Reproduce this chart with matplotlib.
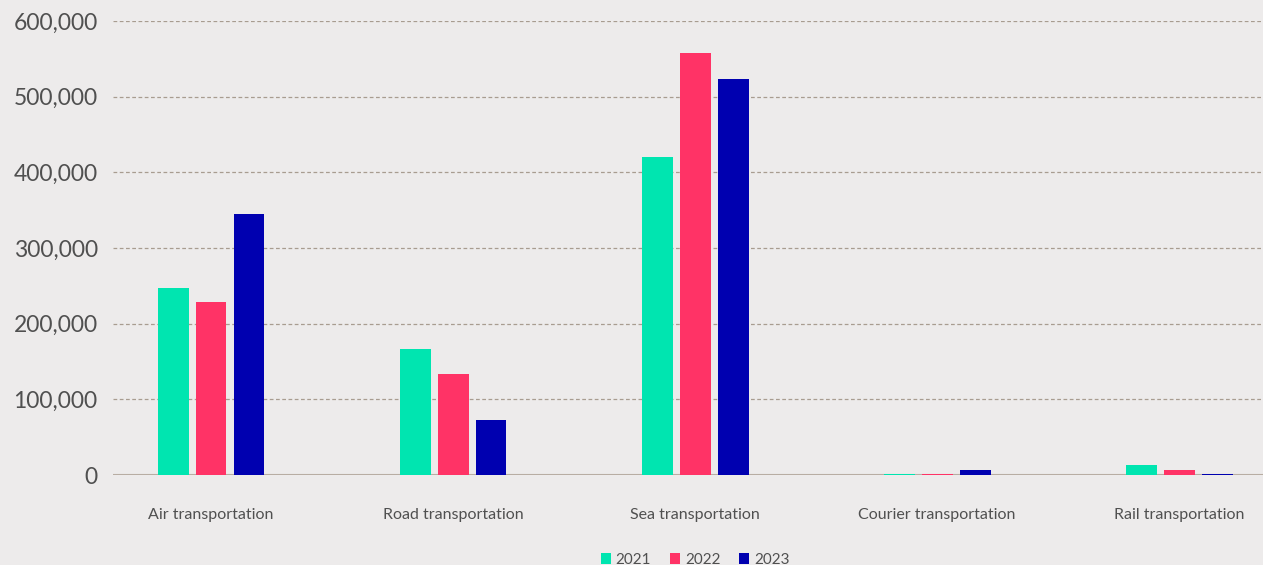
import numpy as np
import matplotlib.pyplot as plt
from matplotlib.ticker import FuncFormatter

plt.rcParams["font.family"] = ["Lato", "DejaVu Sans"]

categories = ["Air transportation", "Road transportation", "Sea transportation",
              "Courier transportation", "Rail transportation"]
years = ["2021", "2022", "2023"]
values_2021 = [247000, 166500, 420500, 1500, 13000]
values_2022 = [228500, 133500, 558000, 1500, 6500]
values_2023 = [345000, 72500, 523500, 6500, 1500]
colors = ["#00E5B0", "#FF3366", "#0000B0"]

bg = "#EDEBEB"
fig = plt.figure(figsize=(12.63, 5.65), dpi=100, facecolor=bg)
ax = fig.add_axes([113 / 1263, 1 - 475 / 565, 1150 / 1263, 454 / 565])
ax.set_facecolor(bg)

x = np.arange(len(categories))
w = 0.128
step = 0.157
for i, (vals, yr) in enumerate(zip([values_2021, values_2022, values_2023], years)):
    ax.bar(x + (i - 1) * step, vals, width=w, color=colors[i], label=yr, zorder=3)

ax.set_ylim(0, 600000)
ax.set_xlim(-0.405, 4.347)
ax.set_yticks(np.arange(0, 600001, 100000))
ax.yaxis.set_major_formatter(FuncFormatter(lambda v, p: f"{int(v):,}"))
ax.grid(axis="y", color="#A89C90", linestyle=(0, (3, 2)), linewidth=0.9, zorder=0)
ax.axhline(0, color="#B8ADA3", linewidth=1.5, zorder=2)
for s in ax.spines.values():
    s.set_visible(False)
ax.tick_params(axis="y", length=0, labelsize=16.5, labelcolor="#505050", pad=11)
ax.set_xticks(x)
ax.set_xticklabels(categories)
ax.tick_params(axis="x", length=0, labelsize=11.5, labelcolor="#505050", pad=24)

leg = fig.legend(loc="lower center", bbox_to_anchor=(695 / 1263, -0.028), ncol=3,
                 frameon=False, fontsize=11, handlelength=0.7, handleheight=0.7,
                 handletextpad=0.3, columnspacing=1.2, labelcolor="#505050")

fig.savefig("out.png", dpi=100, facecolor=bg)
